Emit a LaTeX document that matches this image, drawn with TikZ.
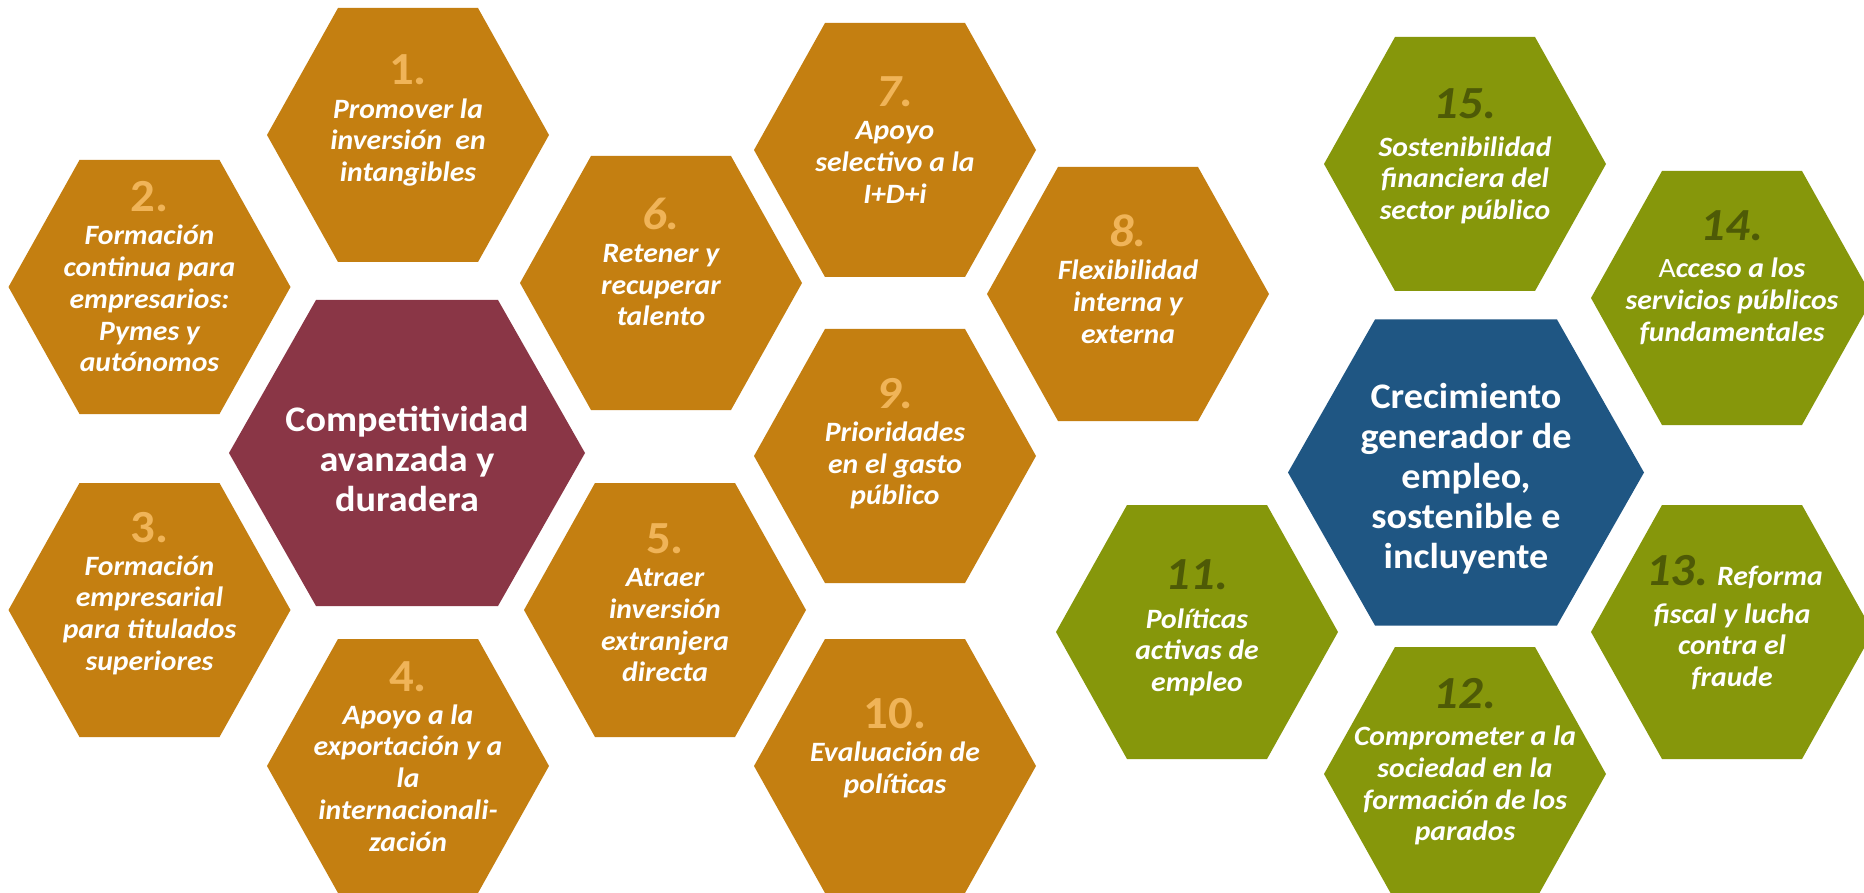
\documentclass[tikz,border=0pt]{standalone}
\usepackage{fontspec}
\setmainfont{Carlito}[FakeStretch=1.06]
\definecolor{hexor}{HTML}{C47F11}
\definecolor{numor}{HTML}{F0B458}
\definecolor{hexred}{HTML}{8A3646}
\definecolor{hexblue}{HTML}{1F5683}
\definecolor{hexgreen}{HTML}{86970B}
\definecolor{numgreen}{HTML}{4E5A06}
\tikzset{
  smallhex/.pic={\path[pic actions] (-141,0) -- (-70,-127) -- (70,-127) -- (141,0) -- (70,127) -- (-70,127) -- cycle;},
  bighex/.pic={\path[pic actions] (-178,0) -- (-91,-153) -- (91,-153) -- (178,0) -- (91,153) -- (-91,153) -- cycle;},
  hextext/.style={align=center, inner sep=0pt, anchor=north, text=white,
    font=\fontsize{28}{31.7}\selectfont\bfseries\itshape},
  bigtext/.style={align=center, inner sep=0pt, anchor=north, text=white,
    font=\fontsize{36}{40}\selectfont\bfseries},
  onum/.style={inner sep=0pt, anchor=base, text=numor, font=\fontsize{46}{46}\selectfont\bfseries},
  onumi/.style={onum, font=\fontsize{46}{46}\selectfont\bfseries\itshape},
  gnum/.style={onumi, text=numgreen},
}
\begin{document}
\begin{tikzpicture}[x=1pt,y=-1pt]
\useasboundingbox (0,0) rectangle (1864,893);
\fill[white] (0,0) rectangle (1864,893);
\clip (0,0) rectangle (1864,893);
% hexagons
\pic[fill=hexor] (h1) at (408,135) {smallhex};
\pic[fill=hexor] (h2) at (149.5,287) {smallhex};
\pic[fill=hexor] (h3) at (149.5,610) {smallhex};
\pic[fill=hexor] (h4) at (408,766) {smallhex};
\pic[fill=hexor] (h5) at (665,610) {smallhex};
\pic[fill=hexor] (h6) at (661,283) {smallhex};
\pic[fill=hexor] (h7) at (895,150) {smallhex};
\pic[fill=hexor] (h8) at (1128,294) {smallhex};
\pic[fill=hexor] (h9) at (895,456) {smallhex};
\pic[fill=hexor] (h10) at (895,766) {smallhex};
\pic[fill=hexred] (hc) at (407,453) {bighex};
\pic[fill=hexgreen] (h15) at (1465,164) {smallhex};
\pic[fill=hexgreen] (h14) at (1732,298) {smallhex};
\pic[fill=hexgreen] (h11) at (1197,632) {smallhex};
\pic[fill=hexgreen] (h12) at (1465,774) {smallhex};
\pic[fill=hexgreen] (h13) at (1732,632) {smallhex};
\pic[fill=hexblue] (hg) at (1466,472.5) {bighex};
% numbers (at baseline)
\node[onum]  (n1) at (408,85) {1.};
\node[onum]  (n2) at (149.5,211.7) {2.};
\node[onum]  (n3) at (149.5,542) {3.};
\node[onum]  (n4) at (408,691) {4.};
\node[onum]  (n5) at (665,553.4) {5.};
\node[onumi] (n6) at (661,229.3) {6.};
\node[onumi] (n7) at (895,106.7) {7.};
\node[onumi] (n8) at (1128,246.7) {8.};
\node[onumi] (n9) at (895,408.3) {9.};
\node[onum]  (n10) at (895,728.6) {10.};
\node[gnum]  (n15) at (1465,119) {15.};
\node[gnum]  (n14) at (1732,240.7) {14.};
\node[gnum]  (n11) at (1197,589.3) {11.};
\node[gnum]  (n12) at (1465,708.5) {12.};
\node[gnum, anchor=base west] (n13) at (1646,585) {13.};
\node[hextext, anchor=base west] (r13) at (1717,585) {Reforma};
% texts (north = first baseline - 24)
\node[hextext] (t1) at (408,94) {\rule{0pt}{24pt}Promover la\\inversión\ \ en\\intangibles};
\node[hextext] (t2) at (149.5,220.7) {\rule{0pt}{24pt}Formación\\continua para\\empresarios:\\Pymes y\\autónomos};
\node[hextext] (t3) at (149.5,551) {\rule{0pt}{24pt}Formación\\empresarial\\para titulados\\superiores};
\node[hextext] (t4) at (408,700) {\rule{0pt}{24pt}Apoyo a la\\exportación y a\\la\\internacionali-\\zación};
\node[hextext] (t5) at (665,562.4) {\rule{0pt}{24pt}Atraer\\inversión\\extranjera\\directa};
\node[hextext] (t6) at (661,238.3) {\rule{0pt}{24pt}Retener y\\recuperar\\talento};
\node[hextext] (t7) at (895,115.7) {\rule{0pt}{24pt}Apoyo\\selectivo a la\\I+D+i};
\node[hextext] (t8) at (1128,255.7) {\rule{0pt}{24pt}Flexibilidad\\interna y\\externa};
\node[hextext] (t9) at (895,417.3) {\rule{0pt}{24pt}Prioridades\\en el gasto\\público};
\node[hextext] (t10) at (895,737.6) {\rule{0pt}{24pt}Evaluación de\\políticas};
\node[bigtext] (tc) at (407,401.7) {\rule{0pt}{30pt}Competitividad\\avanzada y\\duradera};
\node[bigtext] (tg) at (1466,378) {\rule{0pt}{30pt}Crecimiento\\generador de\\empleo,\\sostenible e\\incluyente};
\node[hextext] (t15) at (1465,132) {\rule{0pt}{24pt}Sostenibilidad\\financiera del\\sector público};
\node[hextext] (t14) at (1732,253.7) {\rule{0pt}{24pt}{\upshape\mdseries A}cceso a los\\servicios públicos\\fundamentales};
\node[hextext] (t11) at (1197,604) {\rule{0pt}{24pt}Políticas\\activas de\\empleo};
\node[hextext] (t12) at (1465,721.5) {\rule{0pt}{24pt}Comprometer a la\\sociedad en la\\formación de los\\parados};
\node[hextext] (t13) at (1732,599) {\rule{0pt}{24pt}fiscal y lucha\\contra el\\fraude};
\end{tikzpicture}
\end{document}
